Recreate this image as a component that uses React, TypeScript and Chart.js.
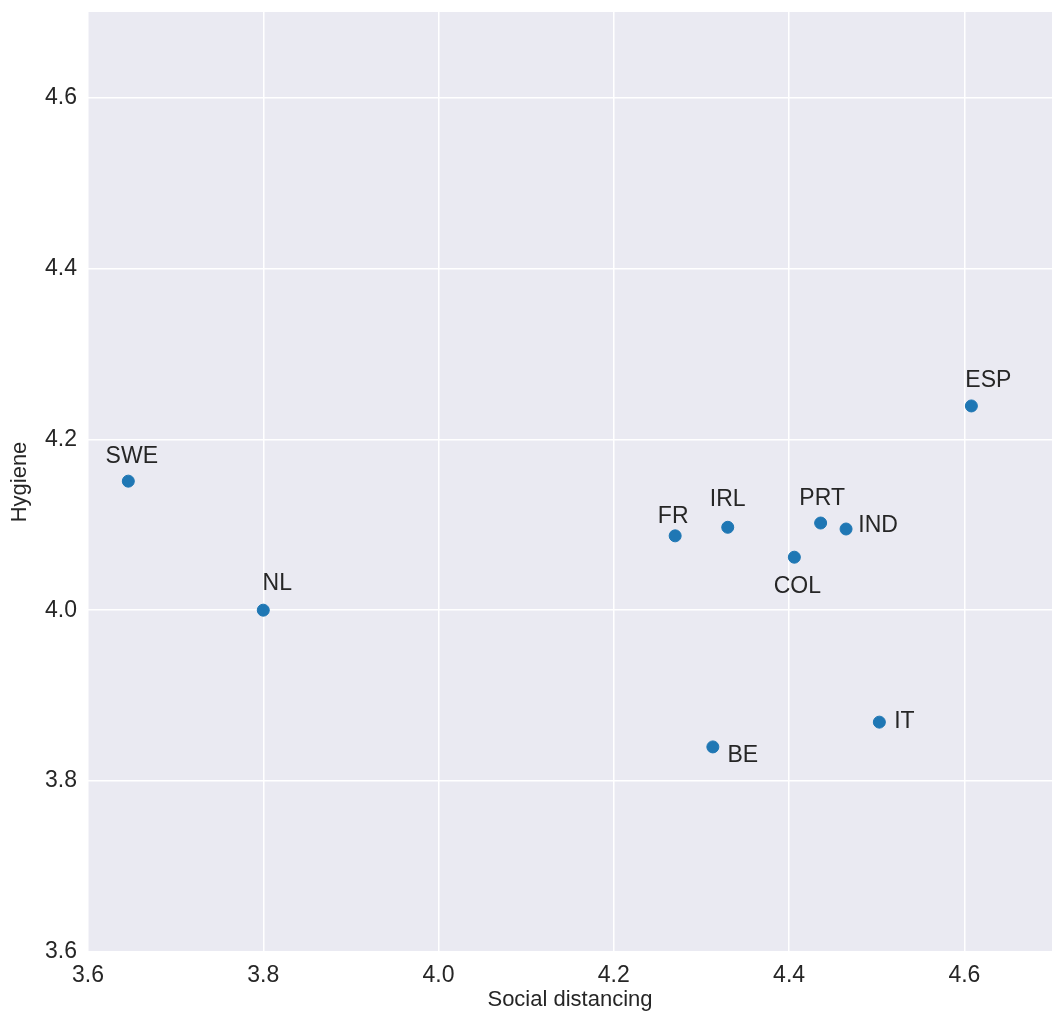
import { useEffect, useRef } from 'react';
import { Chart, registerables } from 'chart.js';

Chart.register(...registerables);

const countries = ['SWE', 'NL', 'FR', 'IRL', 'BE', 'COL', 'PRT', 'IND', 'IT', 'ESP'];
const socialDistancing = [3.646, 3.8, 4.27, 4.33, 4.313, 4.406, 4.436, 4.465, 4.503, 4.608];
const hygiene = [4.151, 4.0, 4.087, 4.097, 3.84, 4.062, 4.102, 4.095, 3.869, 4.239];
const xTicks = [3.6, 3.8, 4.0, 4.2, 4.4, 4.6];
const yTicks = [3.6, 3.8, 4.0, 4.2, 4.4, 4.6];

// label offsets from the dot, in pixels (text centre)
const labelOffsets: [number, number][] = [
  [3.5, -24], [14, -27], [-2, -19.5], [0, -28], [30, 9],
  [3, 29], [1.5, -24], [32, -3], [25, -0.5], [17, -25],
];

const FONT = '"Liberation Sans", Arial, sans-serif';
const TEXT = '#262626';

const bgPlugin = {
  id: 'bg',
  beforeDraw(chart: any) {
    const { ctx, chartArea: a } = chart;
    ctx.save();
    ctx.fillStyle = '#EAEAF2';
    ctx.fillRect(a.left, a.top, a.right - a.left, a.bottom - a.top);
    ctx.restore();
  },
};

const labelPlugin = {
  id: 'pointLabels',
  afterDatasetsDraw(chart: any) {
    const { ctx } = chart;
    const meta = chart.getDatasetMeta(0);
    ctx.save();
    ctx.font = `23px ${FONT}`;
    ctx.fillStyle = TEXT;
    ctx.textAlign = 'center';
    ctx.textBaseline = 'middle';
    meta.data.forEach((pt: any, i: number) => {
      const [dx, dy] = labelOffsets[i];
      ctx.fillText(countries[i], pt.x + dx, pt.y + dy);
    });
    ctx.restore();
  },
};

export default function App() {
  const canvasRef = useRef<HTMLCanvasElement | null>(null);
  const chartRef = useRef<Chart | null>(null);

  useEffect(() => {
    document.body.style.margin = '0';
    if (!canvasRef.current) return;
    chartRef.current = new Chart(canvasRef.current, {
      type: 'scatter',
      data: {
        datasets: [
          {
            data: socialDistancing.map((x, i) => ({ x, y: hygiene[i] })),
            backgroundColor: '#1f77b4',
            borderColor: '#1f77b4',
            pointRadius: 6,
            pointHoverRadius: 6,
          },
        ],
      },
      options: {
        animation: false,
        responsive: true,
        maintainAspectRatio: false,
        layout: { padding: { left: 0, top: 12, right: 11, bottom: 0 } },
        plugins: { legend: { display: false }, tooltip: { enabled: false } },
        scales: {
          x: {
            type: 'linear',
            min: 3.6,
            max: 4.7,
            afterBuildTicks: (s: any) => { s.ticks = xTicks.map((v) => ({ value: v })); },
            afterFit: (s: any) => {
              s.height = 75;
              s.paddingLeft = 0;
              s.paddingRight = 0;
            },
            grid: { color: '#ffffff', lineWidth: 1.5, drawTicks: false },
            border: { display: false },
            ticks: {
              padding: 10,
              color: TEXT,
              font: { size: 23, family: FONT },
              maxRotation: 0,
              callback: (v: any) => Number(v).toFixed(1),
            },
            title: {
              display: true,
              text: 'Social distancing',
              color: TEXT,
              font: { size: 22, family: FONT },
              padding: { top: 0, bottom: 14 },
            },
          },
          y: {
            type: 'linear',
            min: 3.6,
            max: 4.7,
            afterBuildTicks: (s: any) => { s.ticks = yTicks.map((v) => ({ value: v })); },
            afterFit: (s: any) => {
              s.width = 88;
              s.paddingTop = 0;
              s.paddingBottom = 0;
            },
            grid: { color: '#ffffff', lineWidth: 1.5, drawTicks: false },
            border: { display: false },
            ticks: {
              padding: 11,
              color: TEXT,
              font: { size: 23, family: FONT },
              callback: (v: any) => Number(v).toFixed(1),
            },
            title: {
              display: true,
              text: 'Hygiene',
              color: TEXT,
              font: { size: 22, family: FONT },
              padding: { top: 7, bottom: 0 },
            },
          },
        },
      },
      plugins: [bgPlugin, labelPlugin],
    });
    return () => {
      chartRef.current?.destroy();
      chartRef.current = null;
    };
  }, []);

  return (
    <div style={{ position: 'fixed', left: 0, top: 0, width: 1063, height: 1027, background: '#fff' }}>
      <canvas ref={canvasRef} />
    </div>
  );
}
